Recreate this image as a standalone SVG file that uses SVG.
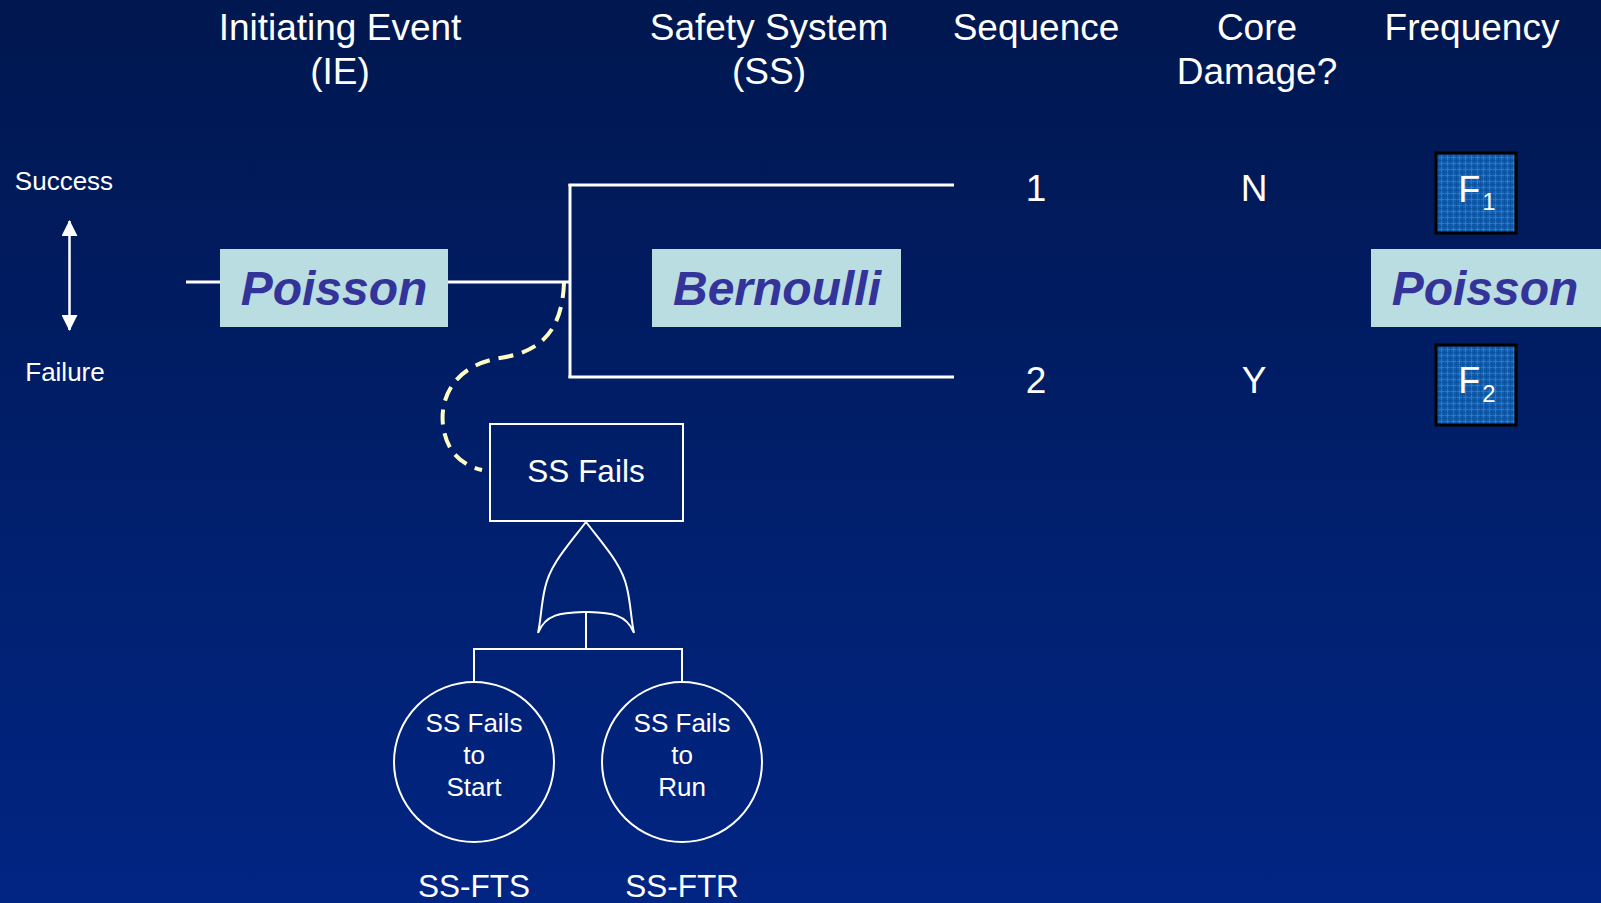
<svg xmlns="http://www.w3.org/2000/svg" width="1601" height="903" viewBox="0 0 1601 903">
<defs>
<linearGradient id="bg" x1="0" y1="0" x2="0" y2="1">
<stop offset="0" stop-color="#00174f"/>
<stop offset="1" stop-color="#012583"/>
</linearGradient>
<pattern id="weave" width="6" height="6" patternUnits="userSpaceOnUse">
<rect width="6" height="6" fill="#0d5cae"/>
<path d="M0 1.5H6M1.5 0V6" stroke="#3b86cf" stroke-width="1" opacity="0.7"/>
<path d="M0 4.5H6M4.5 0V6" stroke="#0a4c96" stroke-width="1" opacity="0.6"/>
</pattern>
<marker id="ah" viewBox="0 0 16 16" refX="15" refY="8" markerWidth="16" markerHeight="16" markerUnits="userSpaceOnUse" orient="auto-start-reverse">
<path d="M0 0L16 8L0 16Z" fill="#fff"/>
</marker>
</defs>
<style>
.t{font-family:"Liberation Sans",Arial,sans-serif;fill:#fff;text-anchor:middle}
.h{font-size:37px}
.s{font-size:26px}
.dist{font-family:"Liberation Sans",Arial,sans-serif;font-weight:bold;font-style:italic;font-size:48px;fill:#333399;text-anchor:middle}
.dbox{fill:#b9dde1}
.ln{stroke:#fff;stroke-width:3;fill:none}
.thin{stroke:#fff;stroke-width:2;fill:none}
.fb{fill:url(#weave);stroke:#000;stroke-width:3}
</style>
<rect width="1601" height="903" fill="url(#bg)"/>

<g id="headers">
<text class="t h" x="340" y="40">Initiating Event</text>
<text class="t h" x="340" y="84">(IE)</text>
<text class="t h" x="769" y="40">Safety System</text>
<text class="t h" x="769" y="84">(SS)</text>
<text class="t h" x="1036" y="40">Sequence</text>
<text class="t h" x="1257" y="40">Core</text>
<text class="t h" x="1257" y="84">Damage?</text>
<text class="t h" x="1472" y="40">Frequency</text>
</g>

<g id="legend">
<text class="t s" x="64" y="190">Success</text>
<text class="t s" x="65" y="381">Failure</text>
<line x1="69.5" y1="221" x2="69.5" y2="330" stroke="#fff" stroke-width="2.5" marker-start="url(#ah)" marker-end="url(#ah)"/>
</g>

<g id="connectors">
<line class="ln" x1="186" y1="282" x2="571" y2="282"/>
<line class="ln" x1="570" y1="184" x2="570" y2="378"/>
<line class="ln" x1="568.5" y1="185" x2="954" y2="185"/>
<line class="ln" x1="568.5" y1="377" x2="954" y2="377"/>
<path d="M564 283 C562 332 540 352 500 358 C452 366 440 400 443 425 C446 450 460 465 482 470" fill="none" stroke="#ffffc4" stroke-width="4" stroke-dasharray="15 9"/>
<path class="thin" d="M586 613 V649 M474 649 H682 M474 648 V682 M682 648 V682"/>
</g>

<g id="ie-poisson">
<rect class="dbox" x="220" y="249" width="228" height="78"/>
<text class="dist" x="334" y="305">Poisson</text>
</g>

<g id="ss-bernoulli">
<rect class="dbox" x="652" y="249" width="249" height="78"/>
<text class="dist" x="777" y="305">Bernoulli</text>
</g>

<g id="freq-poisson">
<rect class="dbox" x="1371" y="249" width="230" height="78"/>
<text class="dist" x="1485" y="305">Poisson</text>
</g>

<g id="seq1">
<text class="t h" x="1036" y="201">1</text>
<text class="t h" x="1254" y="201">N</text>
</g>
<g id="seq2">
<text class="t h" x="1036" y="393">2</text>
<text class="t h" x="1254" y="393">Y</text>
</g>

<g id="f1">
<rect class="fb" x="1436" y="153" width="80" height="80"/>
<text class="t" x="1477" y="202" font-size="36">F<tspan font-size="24" dx="2" dy="8">1</tspan></text>
</g>
<g id="f2">
<rect class="fb" x="1436" y="345" width="80" height="80"/>
<text class="t" x="1477" y="393" font-size="36">F<tspan font-size="24" dx="2" dy="9">2</tspan></text>
</g>

<g id="ss-fails">
<rect class="thin" x="490" y="424" width="193" height="97"/>
<text class="t" x="586" y="482" font-size="31.5">SS Fails</text>
</g>

<g id="or-gate">
<path class="thin" d="M586 522 C566 548 550 565 545 588 C541 605 541 620 538 633 C546 613 562 613 586 612 C610 613 626 613 634 633 C631 620 631 605 627 588 C622 565 606 548 586 522 Z"/>
</g>

<g id="ss-fts">
<circle class="thin" cx="474" cy="762" r="80"/>
<text class="t s" x="474" y="732">SS Fails</text>
<text class="t s" x="474" y="764">to</text>
<text class="t s" x="474" y="796">Start</text>
<text class="t" x="474" y="897" font-size="31.5">SS-FTS</text>
</g>

<g id="ss-ftr">
<circle class="thin" cx="682" cy="762" r="80"/>
<text class="t s" x="682" y="732">SS Fails</text>
<text class="t s" x="682" y="764">to</text>
<text class="t s" x="682" y="796">Run</text>
<text class="t" x="682" y="897" font-size="31.5">SS-FTR</text>
</g>
</svg>
